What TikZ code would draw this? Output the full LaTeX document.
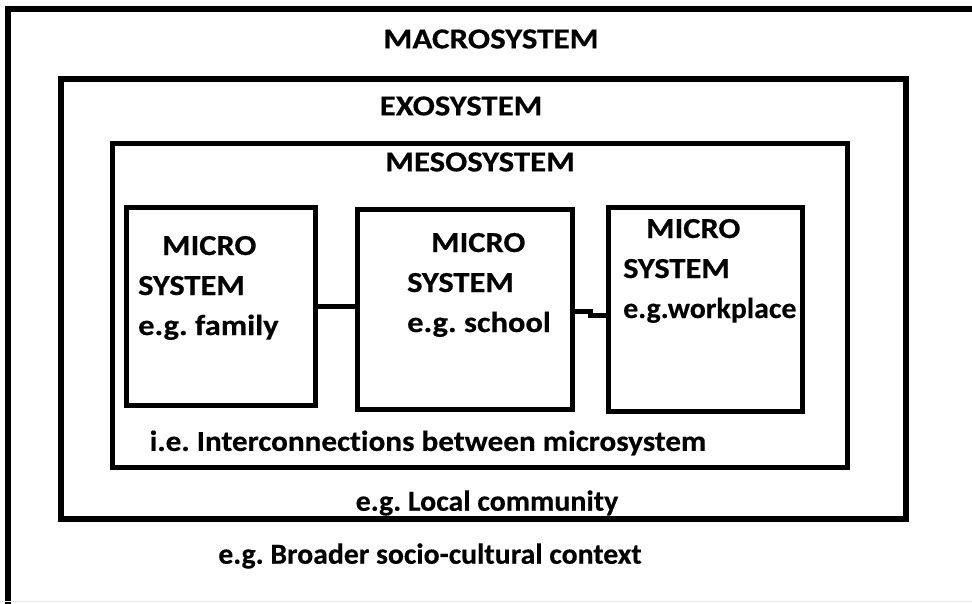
\documentclass[tikz,border=0pt]{standalone}
\usepackage{fontspec}
\setmainfont{Carlito}[Ligatures=NoCommon]
\frenchspacing
\begin{document}
\begin{tikzpicture}[x=1pt,y=-1pt,
  frame/.style={draw=black,line width=5pt,inner sep=0pt},
  lbl/.style={inner sep=0pt,
    font=\bfseries\fontsize{29}{34}\selectfont\addfontfeature{FakeStretch=#1,FakeBold=0.4}},
  lbl/.default=1.0,
  lline/.style={lbl=#1,anchor=base west},
  lline/.default=1.12,
  link/.style={draw=black,line width=5pt}]
\useasboundingbox (0,0) rectangle (972,603);
% outermost frame, open on the right and at the bottom
\coordinate (ftr) at (975,9);
\coordinate (fbl) at (8,606);
\draw[line width=6pt] (ftr) -- (8,9) -- (fbl);
\draw[black!8,line width=1pt] (0,601.5) -- (972,601.5);
\node[lbl=1.14] (macro) at (491,39) {MACROSYSTEM};
\node[lbl=1.025] (macroeg) at (430,556) {e.g. Broader socio-cultural context};

% exosystem
\node[frame,line width=6pt,minimum width=845pt,minimum height=440pt] (exo) at (483.5,299) {};
\node[lbl=1.13] (exot) at (461,106) {EXOSYSTEM};
\node[lbl=1.03] (exoeg) at (487,503) {e.g. Local community};

% mesosystem
\node[frame,minimum width=735pt,minimum height=324pt] (meso) at (480,305.5) {};
\node[lbl=1.13] (mesot) at (480,162) {MESOSYSTEM};
\node[lbl=1.075] (mesoeg) at (428,443) {i.e. Interconnections between microsystem};

% microsystems
\node[frame,minimum width=189pt,minimum height=198pt] (m1) at (221,306.5) {};
\node[frame,minimum width=215pt,minimum height=200pt] (m2) at (465,309.5) {};
\node[frame,minimum width=194pt,minimum height=204pt] (m3) at (705.5,309.5) {};

\node[lline] (m1a) at (162,255) {MICRO};
\node[lline] (m1b) at (138,295) {SYSTEM};
\node[lline] (m1c) at (138,335) {e.g. family};

\node[lline] (m2a) at (431,252) {MICRO};
\node[lline] (m2b) at (407,292) {SYSTEM};
\node[lline] (m2c) at (407,332) {e.g. school};

\node[lline] (m3a) at (646,238) {MICRO};
\node[lline] (m3b) at (623,278) {SYSTEM};
\node[lline=1.03] (m3c) at (623,318) {e.g.workplace};

% links between neighbouring microsystems
\draw[link] (m1.east |- 0,306) -- (m2.west |- 0,306);
\coordinate (jog) at (590,311);
\draw[link] (m2.east |- jog) -- (jog) -- (jog |- 0,315) -- (m3.west |- 0,315);
\end{tikzpicture}
\end{document}
